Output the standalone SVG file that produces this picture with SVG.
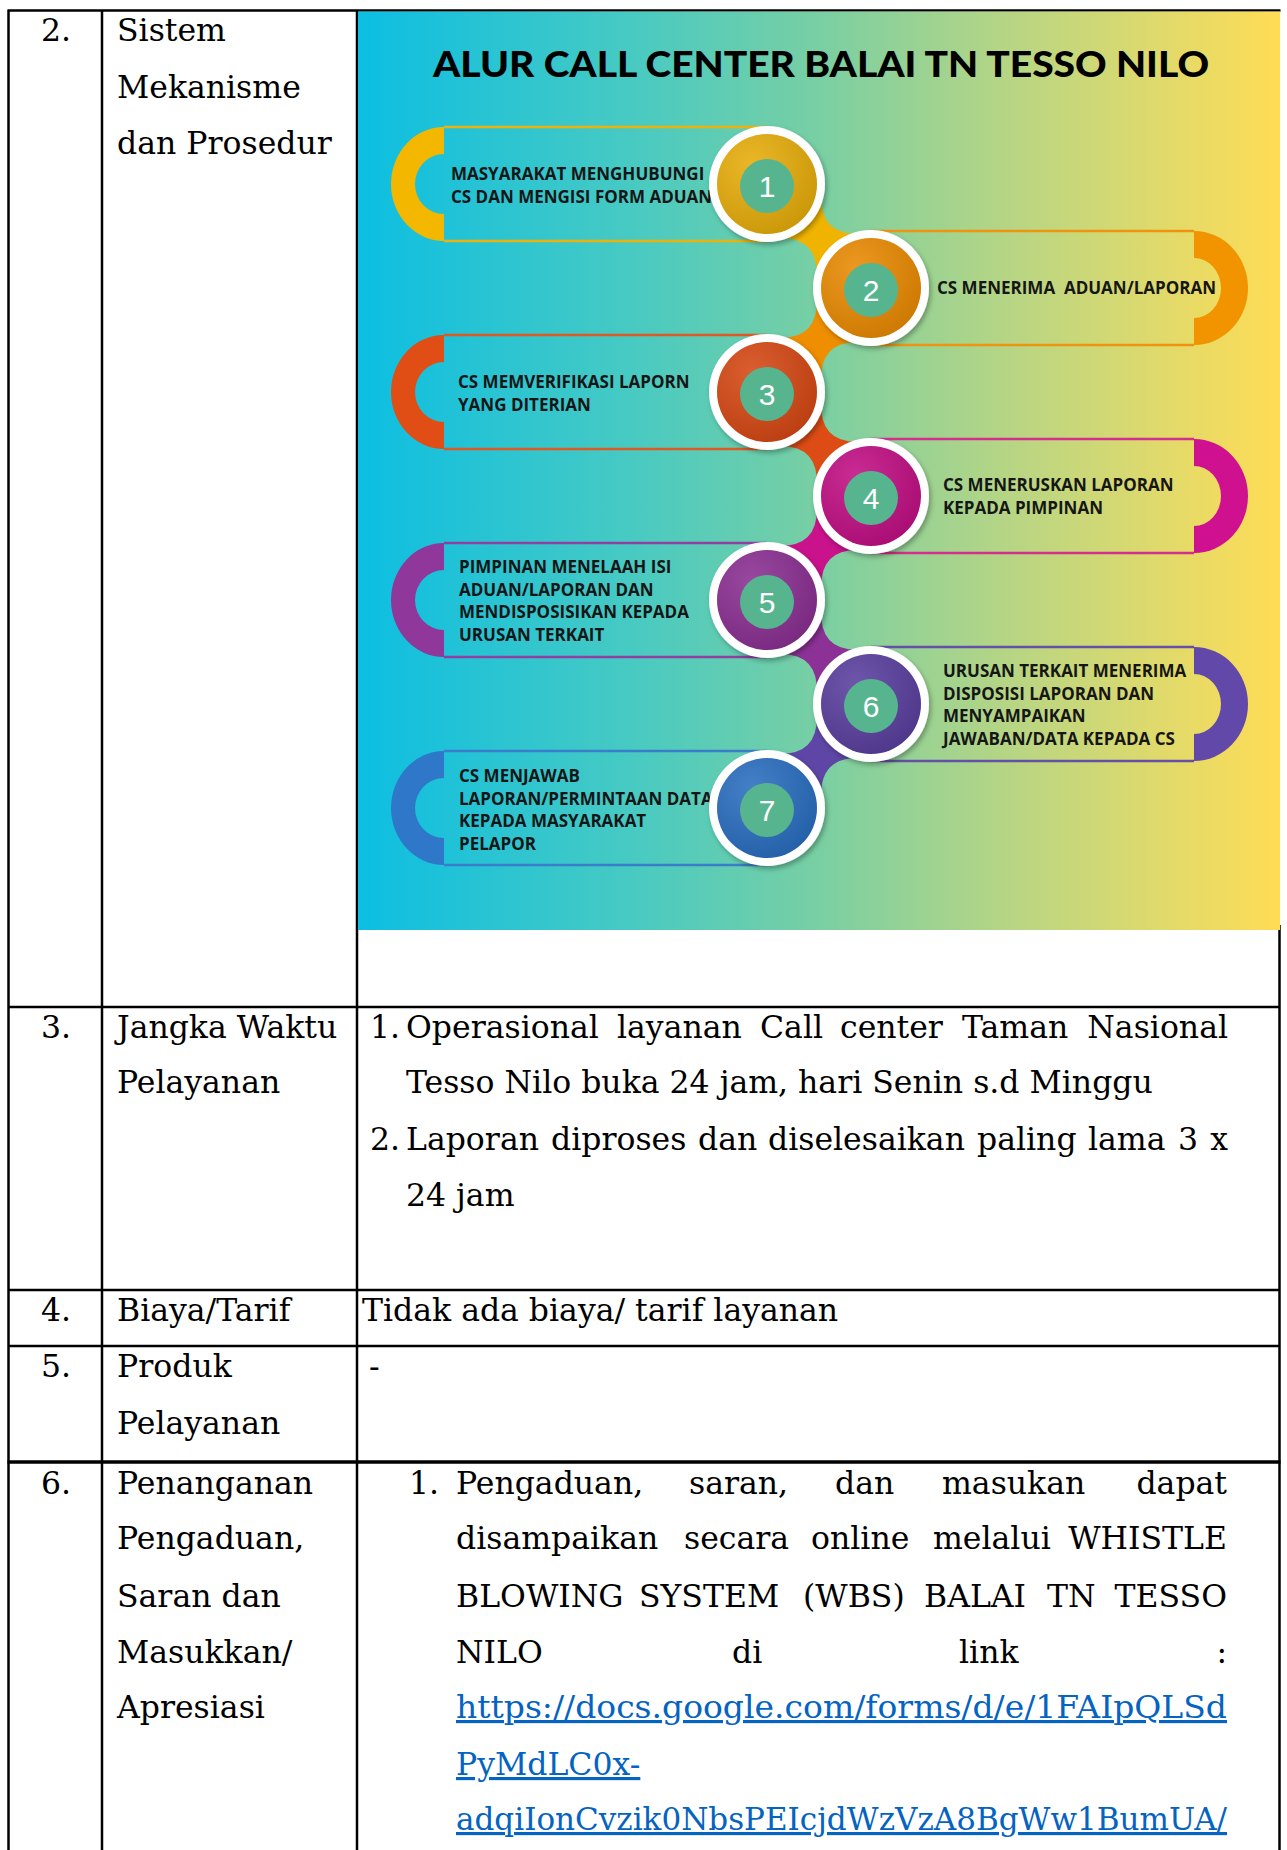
<svg xmlns="http://www.w3.org/2000/svg" width="1287" height="1850" viewBox="0 0 1287 1850">
<style>
.t{font-family:"DejaVu Serif","Liberation Serif",serif;font-size:31.5px;fill:#000}
.lnk{fill:#0563C1;text-decoration:underline}
.s{font-family:"Open Sans","Liberation Sans",sans-serif;font-weight:700;font-size:17px;fill:#161616}
.num{font-family:"Liberation Sans",Arial,sans-serif;font-size:30px;fill:#fff;text-anchor:middle}
.end{text-anchor:end}
.bd{stroke:#000;stroke-width:2.5;fill:none}
.ring{fill:#fff;filter:url(#sh)}
.teal{fill:#56B58F}
.pl{fill:none;stroke-width:2.5}
</style>
<defs>
<linearGradient id="bg" x1="0" y1="0" x2="1" y2="0">
<stop offset="0" stop-color="#0CBEE2"/>
<stop offset="0.3" stop-color="#48CAC2"/>
<stop offset="0.5" stop-color="#79CFA3"/>
<stop offset="0.7" stop-color="#B5D585"/>
<stop offset="0.88" stop-color="#E2DA6A"/>
<stop offset="1" stop-color="#FFDC55"/>
</linearGradient>
<radialGradient id="shade" cx="35%" cy="30%" r="75%">
<stop offset="0" stop-color="#fff" stop-opacity="0.12"/>
<stop offset="1" stop-color="#000" stop-opacity="0.12"/>
</radialGradient>
<filter id="sh" x="-20%" y="-20%" width="140%" height="140%">
<feDropShadow dx="2" dy="3" stdDeviation="2.5" flood-color="#000" flood-opacity="0.3"/>
</filter>
</defs>
<rect width="1287" height="1850" fill="#fff"/>

<!-- table lines -->
<g id="table">
<path class="bd" d="M7.5,10.5 H1280.5 M8.5,10 V1850 M102,10 V1850 M357,10 V1850 M1279.5,925 V1850 M7.5,1007 H1280.5 M7.5,1290 H1280.5 M7.5,1346 H1280.5"/>
<path stroke="#000" stroke-width="3.5" d="M7.5,1462 H1280.5"/>
</g>

<!-- infographic background -->
<rect id="infographic-bg" x="358" y="11.5" width="922" height="918.5" fill="url(#bg)"/>
<text id="title" x="433" y="77" font-family="Lato,'Open Sans',sans-serif" font-weight="900" font-size="36" fill="#000" textLength="776" lengthAdjust="spacingAndGlyphs">ALUR CALL CENTER BALAI TN TESSO NILO</text>

<!-- pills -->
<g id="pill1"><path fill="#F3B700" d="M444,127 A53,57 0 0 0 444,241 L444,214 A29,30 0 0 1 444,154 Z"/><path class="pl" stroke="#E9B20E" d="M444,127 H767 M444,241 H767"/>
<text class="s" x="451" y="180">MASYARAKAT MENGHUBUNGI</text><text class="s" x="451" y="202.5">CS DAN MENGISI FORM ADUAN</text></g>
<g id="pill2"><path fill="#F29400" d="M1194,231 A54,57 0 0 1 1194,345 L1194,318 A27,30 0 0 0 1194,258 Z"/><path class="pl" stroke="#EE9410" d="M871,231 H1194 M871,345 H1194"/>
<text class="s" x="937" y="294" xml:space="preserve">CS MENERIMA  ADUAN/LAPORAN</text></g>
<g id="pill3"><path fill="#E04E16" d="M444,335 A53,57 0 0 0 444,449 L444,422 A29,30 0 0 1 444,362 Z"/><path class="pl" stroke="#DE5A24" d="M444,335 H767 M444,449 H767"/>
<text class="s" x="458" y="388">CS MEMVERIFIKASI LAPORN</text><text class="s" x="458" y="410.5">YANG DITERIAN</text></g>
<g id="pill4"><path fill="#CF1190" d="M1194,439 A54,57 0 0 1 1194,553 L1194,526 A27,30 0 0 0 1194,466 Z"/><path class="pl" stroke="#D42F8C" d="M871,439 H1194 M871,553 H1194"/>
<text class="s" x="943" y="491">CS MENERUSKAN LAPORAN</text><text class="s" x="943" y="514">KEPADA PIMPINAN</text></g>
<g id="pill5"><path fill="#8F379B" d="M444,543 A53,57 0 0 0 444,657 L444,630 A29,30 0 0 1 444,570 Z"/><path class="pl" stroke="#9040A0" d="M444,543 H767 M444,657 H767"/>
<text class="s" x="459" y="573">PIMPINAN MENELAAH ISI</text><text class="s" x="459" y="595.5">ADUAN/LAPORAN DAN</text><text class="s" x="459" y="618">MENDISPOSISIKAN KEPADA</text><text class="s" x="459" y="640.5">URUSAN TERKAIT</text></g>
<g id="pill6"><path fill="#6248A8" d="M1194,647 A54,57 0 0 1 1194,761 L1194,734 A27,30 0 0 0 1194,674 Z"/><path class="pl" stroke="#6450A8" d="M871,647 H1194 M871,761 H1194"/>
<text class="s" x="943" y="677">URUSAN TERKAIT MENERIMA</text><text class="s" x="943" y="699.5">DISPOSISI LAPORAN DAN</text><text class="s" x="943" y="722">MENYAMPAIKAN</text><text class="s" x="943" y="744.5">JAWABAN/DATA KEPADA CS</text></g>
<g id="pill7"><path fill="#2F78C9" d="M444,751 A53,57 0 0 0 444,865 L444,838 A29,30 0 0 1 444,778 Z"/><path class="pl" stroke="#3A7ECB" d="M444,751 H767 M444,865 H767"/>
<text class="s" x="459" y="782">CS MENJAWAB</text><text class="s" x="459" y="804.5">LAPORAN/PERMINTAAN DATA</text><text class="s" x="459" y="827">KEPADA MASYARAKAT</text><text class="s" x="459" y="849.5">PELAPOR</text></g>

<!-- connectors (necks) -->
<g id="connectors">
<path fill="#F0B400" d="M821.2,193.5 Q819,236 861.5,233.8 L816.8,278.5 Q819,236 776.5,238.2 Z"/>
<path fill="#EE8E00" d="M816.8,297.5 Q819,340 776.5,337.8 L821.2,382.5 Q819,340 861.5,342.2 Z"/>
<path fill="#DD4C14" d="M821.2,401.5 Q819,444 861.5,441.8 L816.8,486.5 Q819,444 776.5,446.2 Z"/>
<path fill="#C9128C" d="M816.8,505.5 Q819,548 776.5,545.8 L821.2,590.5 Q819,548 861.5,550.2 Z"/>
<path fill="#8C3296" d="M821.2,609.5 Q819,652 861.5,649.8 L816.8,694.5 Q819,652 776.5,654.2 Z"/>
<path fill="#5E46A6" d="M816.8,713.5 Q819,756 776.5,753.8 L821.2,798.5 Q819,756 861.5,758.2 Z"/>
</g>

<!-- circles -->
<g id="step1"><circle class="ring" cx="767" cy="184" r="58"/><circle cx="767" cy="184" r="50" fill="#E6AD0A"/><circle cx="767" cy="184" r="50" fill="url(#shade)"/><circle class="teal" cx="767" cy="186" r="27"/><text class="num" x="767" y="197">1</text></g>
<g id="step2"><circle class="ring" cx="871" cy="288" r="58"/><circle cx="871" cy="288" r="50" fill="#E98A03"/><circle cx="871" cy="288" r="50" fill="url(#shade)"/><circle class="teal" cx="871" cy="290" r="27"/><text class="num" x="871" y="301">2</text></g>
<g id="step3"><circle class="ring" cx="767" cy="392" r="58"/><circle cx="767" cy="392" r="50" fill="#D64815"/><circle cx="767" cy="392" r="50" fill="url(#shade)"/><circle class="teal" cx="767" cy="394" r="27"/><text class="num" x="767" y="405">3</text></g>
<g id="step4"><circle class="ring" cx="871" cy="496" r="58"/><circle cx="871" cy="496" r="50" fill="#C10F84"/><circle cx="871" cy="496" r="50" fill="url(#shade)"/><circle class="teal" cx="871" cy="498" r="27"/><text class="num" x="871" y="509">4</text></g>
<g id="step5"><circle class="ring" cx="767" cy="600" r="58"/><circle cx="767" cy="600" r="50" fill="#8A2F92"/><circle cx="767" cy="600" r="50" fill="url(#shade)"/><circle class="teal" cx="767" cy="602" r="27"/><text class="num" x="767" y="613">5</text></g>
<g id="step6"><circle class="ring" cx="871" cy="704" r="58"/><circle cx="871" cy="704" r="50" fill="#5A3F9E"/><circle cx="871" cy="704" r="50" fill="url(#shade)"/><circle class="teal" cx="871" cy="706" r="27"/><text class="num" x="871" y="717">6</text></g>
<g id="step7"><circle class="ring" cx="767" cy="808" r="58"/><circle cx="767" cy="808" r="50" fill="#2A6EC0"/><circle cx="767" cy="808" r="50" fill="url(#shade)"/><circle class="teal" cx="767" cy="810" r="27"/><text class="num" x="767" y="821">7</text></g>

<!-- table text -->
<g id="row2">
<text class="t" x="41" y="41">2.</text>
<text class="t" x="117" y="41">Sistem</text>
<text class="t" x="117" y="97.5">Mekanisme</text>
<text class="t" x="117" y="154">dan Prosedur</text>
</g>
<g id="row3">
<text class="t" x="41" y="1038">3.</text>
<text class="t" x="117" y="1038">Jangka Waktu</text>
<text class="t" x="117" y="1093">Pelayanan</text>
<text class="t" x="370" y="1038">1.</text>
<text class="t" x="406" y="1038">Operasional</text>
<text class="t" x="617" y="1038">layanan</text>
<text class="t" x="760" y="1038">Call</text>
<text class="t" x="840" y="1038">center</text>
<text class="t" x="962" y="1038">Taman</text>
<text class="t end" x="1228" y="1038">Nasional</text>
<text class="t" x="406" y="1093">Tesso Nilo buka 24 jam, hari Senin s.d Minggu</text>
<text class="t" x="370" y="1150">2.</text>
<text class="t" x="406" y="1150">Laporan</text>
<text class="t" x="551" y="1150">diproses</text>
<text class="t" x="698" y="1150">dan</text>
<text class="t" x="768" y="1150">diselesaikan</text>
<text class="t" x="977" y="1150">paling</text>
<text class="t" x="1088" y="1150">lama</text>
<text class="t" x="1178" y="1150">3</text>
<text class="t end" x="1228" y="1150">x</text>
<text class="t" x="406" y="1206">24 jam</text>
</g>
<g id="row4">
<text class="t" x="41" y="1321">4.</text>
<text class="t" x="117" y="1321">Biaya/Tarif</text>
<text class="t" x="362" y="1321">Tidak ada biaya/ tarif layanan</text>
</g>
<g id="row5">
<text class="t" x="41" y="1377">5.</text>
<text class="t" x="117" y="1377">Produk</text>
<text class="t" x="117" y="1434">Pelayanan</text>
<text class="t" x="369" y="1377">-</text>
</g>
<g id="row6">
<text class="t" x="41" y="1494">6.</text>
<text class="t" x="117" y="1494">Penanganan</text>
<text class="t" x="117" y="1549">Pengaduan,</text>
<text class="t" x="117" y="1607">Saran dan</text>
<text class="t" x="117" y="1663">Masukkan/</text>
<text class="t" x="117" y="1718">Apresiasi</text>
<text class="t" x="409" y="1494">1.</text>
<text class="t" x="456" y="1494">Pengaduan,</text>
<text class="t" x="689" y="1494">saran,</text>
<text class="t" x="835" y="1494">dan</text>
<text class="t" x="942" y="1494">masukan</text>
<text class="t end" x="1227" y="1494">dapat</text>
<text class="t" x="456" y="1549">disampaikan</text>
<text class="t" x="684" y="1549">secara</text>
<text class="t" x="811" y="1549">online</text>
<text class="t" x="933" y="1549">melalui</text>
<text class="t end" x="1227" y="1549">WHISTLE</text>
<text class="t" x="456" y="1607">BLOWING</text>
<text class="t" x="639" y="1607">SYSTEM</text>
<text class="t" x="803" y="1607">(WBS)</text>
<text class="t" x="924" y="1607">BALAI</text>
<text class="t" x="1047" y="1607">TN</text>
<text class="t end" x="1227" y="1607">TESSO</text>
<text class="t" x="456" y="1663">NILO</text>
<text class="t" x="732" y="1663">di</text>
<text class="t" x="959" y="1663">link</text>
<text class="t end" x="1227" y="1663">:</text>
<text class="t lnk" x="456" y="1718" textLength="771" lengthAdjust="spacingAndGlyphs">https://docs.google.com/forms/d/e/1FAIpQLSd</text>
<text class="t lnk" x="456" y="1775">PyMdLC0x-</text>
<text class="t lnk" x="456" y="1830" textLength="771" lengthAdjust="spacingAndGlyphs">adqiIonCvzik0NbsPEIcjdWzVzA8BgWw1BumUA/</text>
</g>
</svg>
